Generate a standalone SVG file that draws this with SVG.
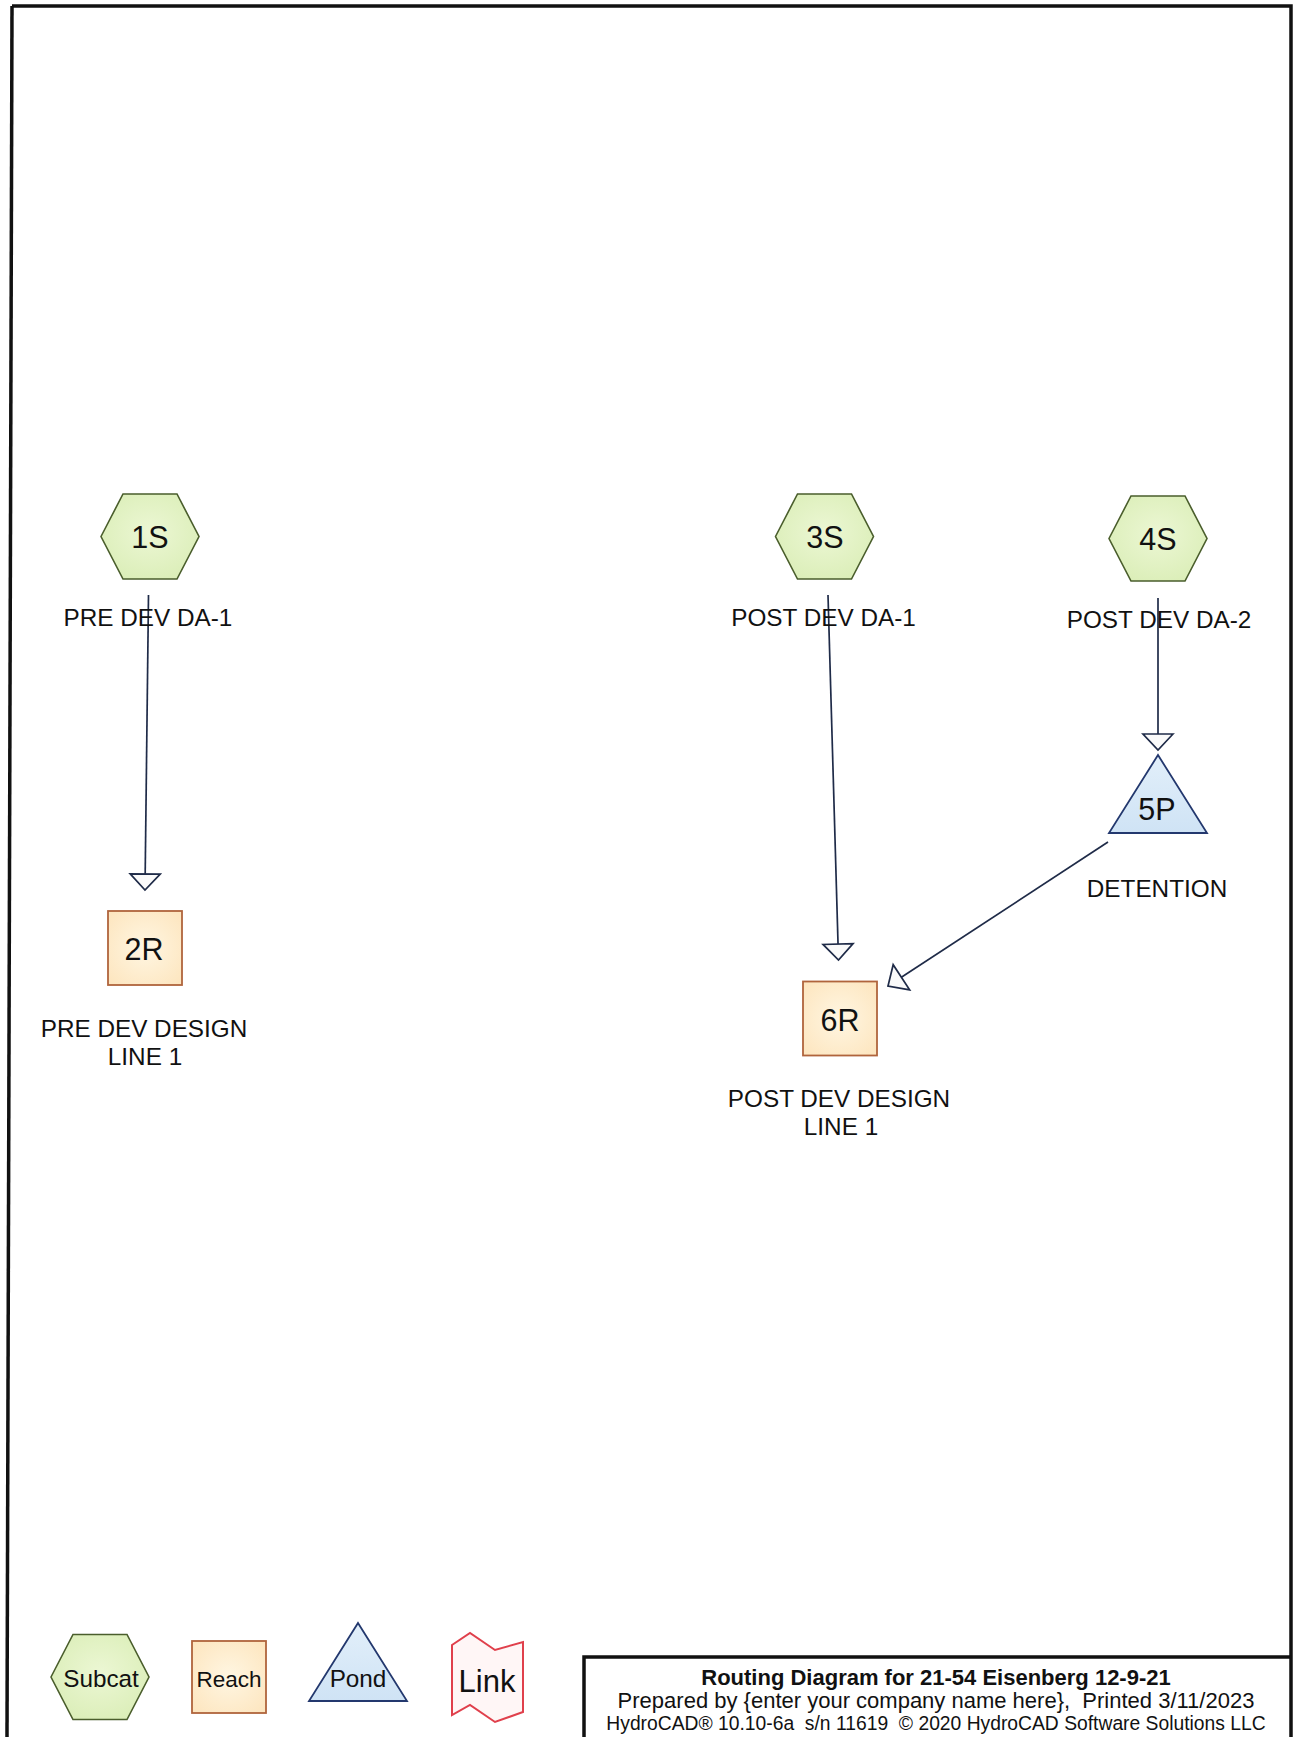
<svg xmlns="http://www.w3.org/2000/svg" xmlns:xlink="http://www.w3.org/1999/xlink" width="1295" height="1737" viewBox="0 0 1295 1737">
  <style>
    text { font-family: "Liberation Sans", Arial, sans-serif; fill: #111; text-anchor: middle; }
    .id { font-size: 30.5px; }
    .lbl { font-size: 24.3px; }
    .frame { fill: none; stroke: #111; stroke-width: 3.5; }
    .sub { fill: url(#gSub); stroke: #4a5e2c; stroke-width: 1.6; }
    .reach { fill: url(#gReach); stroke: #b0643c; stroke-width: 1.8; }
    .pond { fill: url(#gPond); stroke: #23386e; stroke-width: 1.8; }
    .link { fill: #fff6f6; stroke: #e0404c; stroke-width: 2; }
    .flow { fill: none; stroke: #1f2b48; stroke-width: 1.7; marker-end: url(#head); }
    .t1 { font-size: 22px; font-weight: bold; }
    .t2 { font-size: 22px; white-space: pre; }
    .t3 { font-size: 19.3px; white-space: pre; }
  </style>
  <defs>
    <radialGradient id="gSub" cx="50%" cy="45%" r="60%">
      <stop offset="0" stop-color="#ecf7d4"/>
      <stop offset="1" stop-color="#dbeeb8"/>
    </radialGradient>
    <radialGradient id="gReach" cx="50%" cy="50%" r="65%">
      <stop offset="0" stop-color="#fff6e2"/>
      <stop offset="1" stop-color="#fde6c0"/>
    </radialGradient>
    <linearGradient id="gPond" x1="0" y1="0" x2="0" y2="1">
      <stop offset="0" stop-color="#e2effa"/>
      <stop offset="1" stop-color="#cfe3f5"/>
    </linearGradient>
    <!-- subcatchment hexagon, centred on its origin -->
    <polygon id="hex" points="-49,0 -27,-42.5 27,-42.5 49,0 27,42.5 -27,42.5"/>
    <!-- reach square, centred on its origin -->
    <rect id="sq" x="-37" y="-37" width="74" height="74"/>
    <!-- pond triangle, origin at label centre -->
    <polygon id="tri" points="0,-52 49,26 -49,26"/>
    <!-- open arrowhead used on every routing line -->
    <marker id="head" viewBox="-1 -16 18 32" refX="16" refY="0" markerWidth="18" markerHeight="32" markerUnits="userSpaceOnUse" orient="auto" overflow="visible">
      <path d="M0,-15 L16,0 L0,15 Z" fill="#fafafa" stroke="#1f2b48" stroke-width="1.7" stroke-linejoin="miter"/>
    </marker>
  </defs>

  <rect width="1295" height="1737" fill="#ffffff"/>

  <!-- page frame and title block -->
  <g id="frame">
    <path class="frame" d="M12,6 H1291 V1737"/>
    <path class="frame" d="M12,6 L7,1737"/>
    <path class="frame" d="M584,1737 V1657 H1291"/>
  </g>

  <!-- routing lines -->
  <g id="connectors">
    <path class="flow" d="M148.5,595 L145,890"/>
    <path class="flow" d="M828,595 L838.5,960"/>
    <path class="flow" d="M1158,598 L1158,750"/>
    <path class="flow" d="M1108,842 L888,986"/>
  </g>

  <g id="node-1S">
    <use href="#hex" x="150" y="536.5" class="sub"/>
    <text class="id" x="150" y="548">1S</text>
    <text class="lbl" x="148" y="626">PRE DEV DA-1</text>
  </g>

  <g id="node-2R">
    <use href="#sq" x="145" y="948" class="reach"/>
    <text class="id" x="144" y="960">2R</text>
    <text class="lbl" x="144" y="1037">PRE DEV DESIGN</text>
    <text class="lbl" x="145" y="1065">LINE 1</text>
  </g>

  <g id="node-3S">
    <use href="#hex" x="824.5" y="536.5" class="sub"/>
    <text class="id" x="825" y="548">3S</text>
    <text class="lbl" x="823.5" y="626">POST DEV DA-1</text>
  </g>

  <g id="node-4S">
    <use href="#hex" x="1158" y="538.5" class="sub"/>
    <text class="id" x="1158" y="550">4S</text>
    <text class="lbl" x="1159" y="628">POST DEV DA-2</text>
  </g>

  <g id="node-5P">
    <use href="#tri" x="1158" y="807" class="pond"/>
    <text class="id" x="1157" y="820">5P</text>
    <text class="lbl" x="1157" y="897">DETENTION</text>
  </g>

  <g id="node-6R">
    <use href="#sq" x="840" y="1018.5" class="reach"/>
    <text class="id" x="840" y="1031">6R</text>
    <text class="lbl" x="839" y="1107">POST DEV DESIGN</text>
    <text class="lbl" x="841" y="1135">LINE 1</text>
  </g>

  <!-- legend -->
  <g id="legend-subcat">
    <use href="#hex" x="100" y="1677" class="sub"/>
    <text class="lbl" x="101" y="1687">Subcat</text>
  </g>
  <g id="legend-reach">
    <rect x="192" y="1641" width="74" height="72" class="reach"/>
    <text x="229" y="1687" style="font-size:22.5px">Reach</text>
  </g>
  <g id="legend-pond">
    <use href="#tri" x="358" y="1675" class="pond"/>
    <text class="lbl" x="358" y="1687">Pond</text>
  </g>
  <g id="legend-link">
    <path class="link" d="M452,1645 L470,1633 L495,1650 L523,1642 L523,1712 L495,1722 L470,1705 L452,1715 Z"/>
    <text x="487" y="1692" style="font-size:31px">Link</text>
  </g>

  <!-- title block -->
  <g id="title">
    <text class="t1" x="936" y="1685">Routing Diagram for 21-54 Eisenberg 12-9-21</text>
    <text class="t2" x="936" y="1708">Prepared by {enter your company name here},  Printed 3/11/2023</text>
    <text class="t3" x="936" y="1730">HydroCAD® 10.10-6a  s/n 11619  © 2020 HydroCAD Software Solutions LLC</text>
  </g>
</svg>
